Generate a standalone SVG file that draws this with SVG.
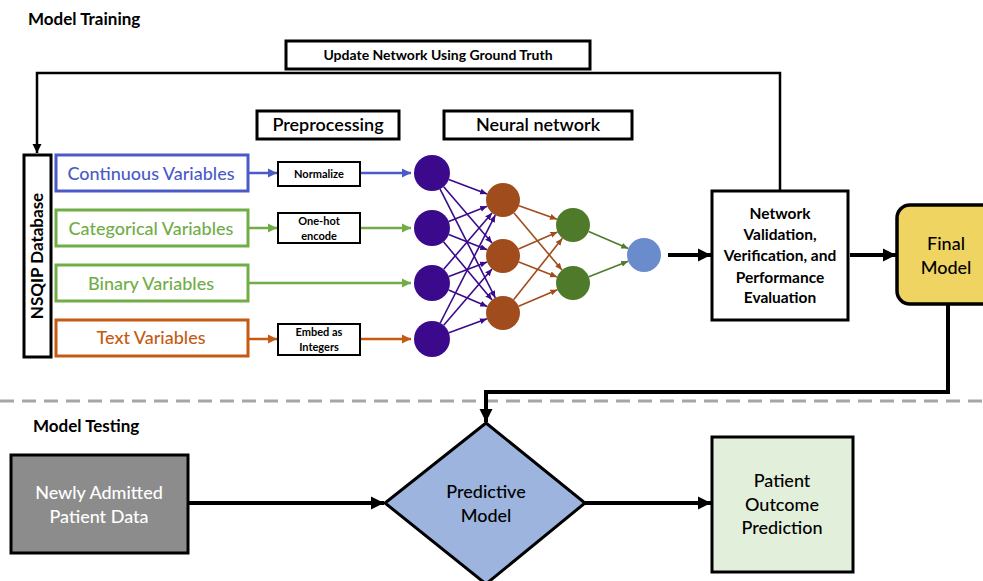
<svg xmlns="http://www.w3.org/2000/svg" width="983" height="581" viewBox="0 0 983 581">
  <style>
    text { font-family: Lato, "Open Sans", "Liberation Sans", sans-serif; }
    .title { font-size: 17px; font-weight: 700; fill: #000; }
    .hdr { font-size: 18px; font-weight: 600; text-anchor: middle; }
    .var { font-size: 18px; font-weight: 500; text-anchor: middle; }
    .prep { font-size: 11px; font-weight: 700; text-anchor: middle; }
    .bold15 { font-size: 15.5px; font-weight: 700; text-anchor: middle; }
    .big { font-size: 18px; font-weight: 500; text-anchor: middle; fill: #000; }
    .box { fill: #fff; stroke: #000; stroke-width: 3; }
    .pbox { fill: #fff; stroke: #000; stroke-width: 2; }
    .thick { fill: none; stroke: #000; stroke-width: 4; }
  </style>
  <defs>
    <marker id="hBlue" markerUnits="userSpaceOnUse" markerWidth="10" markerHeight="10" refX="9" refY="5" orient="auto"><path d="M0,0.5 L9,5 L0,9.5 z" fill="#4a5bc8"/></marker>
    <marker id="hGreen" markerUnits="userSpaceOnUse" markerWidth="10" markerHeight="10" refX="9" refY="5" orient="auto"><path d="M0,0.5 L9,5 L0,9.5 z" fill="#70ad47"/></marker>
    <marker id="hOrange" markerUnits="userSpaceOnUse" markerWidth="10" markerHeight="10" refX="9" refY="5" orient="auto"><path d="M0,0.5 L9,5 L0,9.5 z" fill="#c55a11"/></marker>
    <marker id="hPurple" markerUnits="userSpaceOnUse" markerWidth="8" markerHeight="8" refX="7" refY="4" orient="auto"><path d="M0,1 L7,4 L0,7 z" fill="#3b0a8c"/></marker>
    <marker id="hRust" markerUnits="userSpaceOnUse" markerWidth="8" markerHeight="8" refX="7" refY="4" orient="auto"><path d="M0,1 L7,4 L0,7 z" fill="#a14c1c"/></marker>
    <marker id="hLeaf" markerUnits="userSpaceOnUse" markerWidth="8" markerHeight="8" refX="7" refY="4" orient="auto"><path d="M0,1 L7,4 L0,7 z" fill="#4f7a2a"/></marker>
    <marker id="hBlack" markerUnits="userSpaceOnUse" markerWidth="14" markerHeight="14" refX="13" refY="7" orient="auto"><path d="M0,0.5 L13,7 L0,13.5 z" fill="#000"/></marker>
    <marker id="hThin" markerUnits="userSpaceOnUse" markerWidth="10" markerHeight="10" refX="9" refY="5" orient="auto"><path d="M0,0.5 L9,5 L0,9.5 z" fill="#000"/></marker>
  </defs>

  <rect width="983" height="581" fill="#fff"/>

  <!-- section titles -->
  <text class="title" x="28" y="25">Model Training</text>
  <text class="title" x="33" y="432">Model Testing</text>

  <!-- section divider -->
  <line x1="0" y1="401" x2="983" y2="401" stroke="#a6a6a6" stroke-width="3" stroke-dasharray="14 8"/>

  <g id="connectors">
    <!-- feedback loop -->
    <path d="M780,190 V73 H37 V153" fill="none" stroke="#000" stroke-width="2.5" marker-end="url(#hThin)"/>
    <!-- inputs to preprocessing -->
    <line x1="248" y1="173" x2="277" y2="173" stroke="#4a5bc8" stroke-width="2.5" marker-end="url(#hBlue)"/>
    <line x1="360" y1="173" x2="411" y2="173" stroke="#4a5bc8" stroke-width="2.5" marker-end="url(#hBlue)"/>
    <line x1="248" y1="228" x2="277" y2="228" stroke="#70ad47" stroke-width="2.5" marker-end="url(#hGreen)"/>
    <line x1="360" y1="228" x2="411" y2="228" stroke="#70ad47" stroke-width="2.5" marker-end="url(#hGreen)"/>
    <line x1="248" y1="283" x2="411" y2="283" stroke="#70ad47" stroke-width="2.5" marker-end="url(#hGreen)"/>
    <line x1="248" y1="339" x2="277" y2="339" stroke="#c55a11" stroke-width="2.5" marker-end="url(#hOrange)"/>
    <line x1="360" y1="339" x2="411" y2="339" stroke="#c55a11" stroke-width="2.5" marker-end="url(#hOrange)"/>

    <!-- input layer to hidden layer 1 -->
    <g stroke="#3b0a8c" stroke-width="1.6" marker-end="url(#hPurple)">
      <line x1="448.8" y1="179.4" x2="487.1" y2="194.0"/>
      <line x1="443.7" y1="186.7" x2="492.0" y2="243.1"/>
      <line x1="440.1" y1="189.1" x2="495.3" y2="297.8"/>
      <line x1="448.7" y1="221.4" x2="487.2" y2="206.2"/>
      <line x1="448.7" y1="234.6" x2="487.2" y2="249.8"/>
      <line x1="443.5" y1="241.8" x2="492.1" y2="300.0"/>
      <line x1="443.7" y1="269.3" x2="492.0" y2="212.9"/>
      <line x1="448.8" y1="276.6" x2="487.1" y2="262.0"/>
      <line x1="448.6" y1="290.0" x2="487.3" y2="306.4"/>
      <line x1="440.2" y1="323.0" x2="495.3" y2="215.1"/>
      <line x1="443.7" y1="325.3" x2="492.0" y2="268.9"/>
      <line x1="448.9" y1="332.8" x2="487.0" y2="318.8"/>
    </g>
    <!-- hidden layer 1 to hidden layer 2 -->
    <g stroke="#a14c1c" stroke-width="1.6" marker-end="url(#hRust)">
      <line x1="519.0" y1="205.7" x2="557.0" y2="219.3"/>
      <line x1="514.0" y1="213.0" x2="562.0" y2="270.0"/>
      <line x1="518.5" y1="249.1" x2="557.5" y2="231.9"/>
      <line x1="518.9" y1="262.1" x2="557.1" y2="276.9"/>
      <line x1="513.6" y1="299.7" x2="562.4" y2="238.3"/>
      <line x1="518.6" y1="306.3" x2="557.4" y2="289.7"/>
    </g>
    <!-- hidden layer 2 to output -->
    <g stroke="#4f7a2a" stroke-width="1.6" marker-end="url(#hLeaf)">
      <line x1="588.7" y1="231.6" x2="628.3" y2="248.4"/>
      <line x1="588.8" y1="276.8" x2="628.2" y2="261.2"/>
    </g>

    <!-- main flow -->
    <line class="thick" x1="668" y1="255" x2="711" y2="255" marker-end="url(#hBlack)"/>
    <line class="thick" x1="850" y1="255" x2="896" y2="255" marker-end="url(#hBlack)"/>
    <path class="thick" d="M948,304 V392 H486 V422" marker-end="url(#hBlack)"/>
    <line class="thick" x1="188" y1="503" x2="384" y2="503" marker-end="url(#hBlack)"/>
    <line class="thick" x1="585" y1="503" x2="711" y2="503" marker-end="url(#hBlack)"/>
  </g>

  <g id="update-label">
    <rect class="box" x="286" y="41" width="304" height="28"/>
    <text x="438" y="60" font-size="14" font-weight="700" text-anchor="middle">Update Network Using Ground Truth</text>
  </g>

  <g id="preprocessing-label">
    <rect class="box" x="257" y="111" width="142" height="28"/>
    <text class="hdr" x="328" y="131">Preprocessing</text>
  </g>

  <g id="neural-network-label">
    <rect class="box" x="444" y="111" width="188" height="28"/>
    <text class="hdr" x="538" y="131">Neural network</text>
  </g>

  <g id="nsqip">
    <rect class="box" x="24" y="155" width="27" height="202"/>
    <text x="0" y="0" font-size="17" font-weight="700" text-anchor="middle" transform="translate(43,256) rotate(-90)">NSQIP Database</text>
  </g>

  <g id="continuous">
    <rect x="56" y="155" width="192" height="36" fill="#fff" stroke="#4a5bc8" stroke-width="3"/>
    <text class="var" x="151" y="180" fill="#4a5bc8">Continuous Variables</text>
  </g>
  <g id="categorical">
    <rect x="56" y="210" width="192" height="36" fill="#fff" stroke="#70ad47" stroke-width="3"/>
    <text class="var" x="151" y="235" fill="#70ad47">Categorical Variables</text>
  </g>
  <g id="binary">
    <rect x="56" y="265" width="192" height="36" fill="#fff" stroke="#70ad47" stroke-width="3"/>
    <text class="var" x="151" y="290" fill="#70ad47">Binary Variables</text>
  </g>
  <g id="text-vars">
    <rect x="56" y="320" width="192" height="36" fill="#fff" stroke="#c55a11" stroke-width="3"/>
    <text class="var" x="151" y="344" fill="#c55a11">Text Variables</text>
  </g>

  <g id="normalize">
    <rect class="pbox" x="278" y="162" width="82" height="24"/>
    <text class="prep" x="319" y="178">Normalize</text>
  </g>
  <g id="one-hot">
    <rect class="pbox" x="278" y="213" width="82" height="30"/>
    <text class="prep" x="319" y="225">One-hot</text>
    <text class="prep" x="319" y="240">encode</text>
  </g>
  <g id="embed">
    <rect class="pbox" x="278" y="324" width="82" height="31"/>
    <text class="prep" x="319" y="336">Embed as</text>
    <text class="prep" x="319" y="351">Integers</text>
  </g>

  <g id="input-layer" fill="#3b0a8c">
    <circle cx="432" cy="173" r="18"/>
    <circle cx="432" cy="228" r="18"/>
    <circle cx="432" cy="283" r="18"/>
    <circle cx="432" cy="339" r="18"/>
  </g>
  <g id="hidden-layer-1" fill="#a14c1c">
    <circle cx="503" cy="200" r="17"/>
    <circle cx="503" cy="256" r="17"/>
    <circle cx="503" cy="313" r="17"/>
  </g>
  <g id="hidden-layer-2" fill="#4f7a2a">
    <circle cx="573" cy="225" r="17"/>
    <circle cx="573" cy="283" r="17"/>
  </g>
  <g id="output-node">
    <circle cx="644" cy="255" r="17" fill="#6a8ccd"/>
  </g>

  <g id="validation">
    <rect class="box" x="712" y="191" width="136" height="129"/>
    <text class="bold15" x="780" y="219">Network</text>
    <text class="bold15" x="780" y="240">Validation,</text>
    <text class="bold15" x="780" y="261">Verification, and</text>
    <text class="bold15" x="780" y="283">Performance</text>
    <text class="bold15" x="780" y="303">Evaluation</text>
  </g>

  <g id="final-model">
    <rect x="897" y="205" width="100" height="99" rx="13" fill="#efd462" stroke="#000" stroke-width="3.5"/>
    <text class="big" x="946" y="250" font-size="20">Final</text>
    <text class="big" x="946" y="274" font-size="20">Model</text>
  </g>

  <g id="new-patient">
    <rect x="11" y="455" width="177" height="98" fill="#8c8c8c" stroke="#000" stroke-width="3"/>
    <text class="big" x="99" y="499" style="fill:#fff">Newly Admitted</text>
    <text class="big" x="99" y="523" style="fill:#fff">Patient Data</text>
  </g>

  <g id="predictive-model">
    <polygon points="486,423 585,503 486,584 385,503" fill="#9cb4de" stroke="#000" stroke-width="3"/>
    <text class="big" x="486" y="498">Predictive</text>
    <text class="big" x="486" y="522">Model</text>
  </g>

  <g id="outcome">
    <rect x="712" y="437" width="141" height="135" fill="#e2efda" stroke="#000" stroke-width="3"/>
    <text class="big" x="782" y="487">Patient</text>
    <text class="big" x="782" y="511">Outcome</text>
    <text class="big" x="782" y="534">Prediction</text>
  </g>
</svg>
